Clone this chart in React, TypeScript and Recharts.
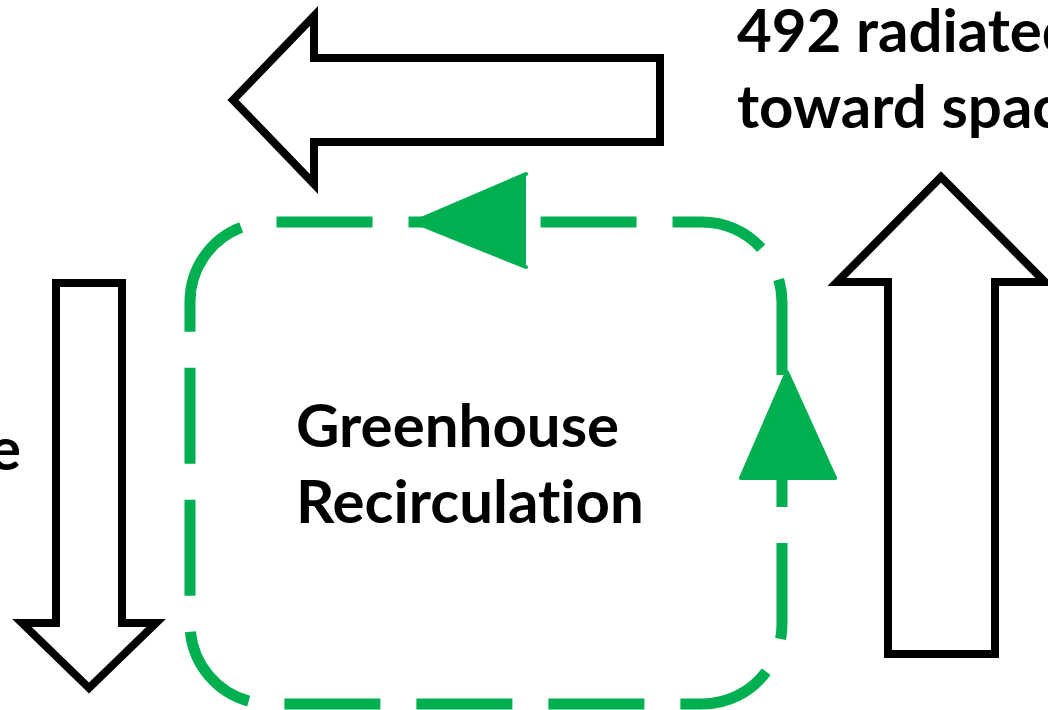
import React from 'react';
import { ComposedChart, XAxis, YAxis, Line, Area, Scatter, ReferenceArea, Rectangle } from 'recharts';

const W = 1048;
const H = 710;
const GREEN = '#00B050';

// Outline arrows (centerline vertices, pixel-space units)
const spaceArrow = [
  { x: 660, y: 100 }, { x: 660, y: 142 }, { x: 314, y: 142 }, { x: 314, y: 184 },
  { x: 233, y: 100 }, { x: 314, y: 16 }, { x: 314, y: 58 }, { x: 660, y: 58 }, { x: 660, y: 100 },
];
const upArrow = [
  { x: 995, y: 470 }, { x: 995, y: 654 }, { x: 888, y: 654 }, { x: 888, y: 282 },
  { x: 837, y: 282 }, { x: 941, y: 177 }, { x: 1045, y: 282 }, { x: 995, y: 282 }, { x: 995, y: 470 },
];
const downArrow = [
  { x: 56, y: 450 }, { x: 56, y: 283 }, { x: 122, y: 283 }, { x: 122, y: 623 },
  { x: 156, y: 623 }, { x: 89, y: 688 }, { x: 22, y: 623 }, { x: 56, y: 623 }, { x: 56, y: 450 },
];

// Filled green arrowheads (ranged areas)
const topTriangle = [
  { x: 414, y: [222, 222] },
  { x: 526, y: [174, 267] },
];
const sideTriangle = [
  { x: 741, y: [478, 478] },
  { x: 787, y: [372, 478] },
  { x: 835, y: [478, 478] },
];

// Dashed recirculation loop
const loopX = [190, 782];
const loopY = [222, 704];

// Text lines
const textLines = [
  { x: 737, y: 52, label: '492 radiated', anchor: 'start' },
  { x: 737, y: 128, label: 'toward space', anchor: 'start' },
  { x: 296, y: 447, label: 'Greenhouse', anchor: 'start' },
  { x: 296, y: 523, label: 'Recirculation', anchor: 'start' },
  { x: 21, y: 470, label: 'surface', anchor: 'end' },
];

const LoopShape = (p: any) => (
  <Rectangle {...p} radius={80} fill="none" stroke={GREEN} strokeWidth={11} strokeDasharray="96 36" />
);

const TextShape = (p: any) => (
  <text
    x={p.cx}
    y={p.cy}
    textAnchor={p.payload.anchor}
    fontFamily="Lato, 'Noto Sans', sans-serif"
    fontWeight={700}
    fontSize={60}
    fill="#000"
    style={{ fontVariantLigatures: 'none', fontFeatureSettings: '"liga" 0, "clig" 0' }}
  >
    {p.payload.label}
  </text>
);

export default function App() {
  return (
    <div style={{ position: 'absolute', left: 0, top: 0, width: W, height: H, background: '#fff', overflow: 'hidden' }}>
      <ComposedChart width={W} height={H} margin={{ top: 0, right: 0, bottom: 0, left: 0 }}>
        <XAxis type="number" dataKey="x" domain={[0, W]} allowDataOverflow hide />
        <YAxis type="number" domain={[0, H]} reversed allowDataOverflow hide />
        <ReferenceArea
          x1={loopX[0]}
          x2={loopX[1]}
          y1={loopY[0]}
          y2={loopY[1]}
          shape={LoopShape}
          ifOverflow="visible"
        />
        <Area data={topTriangle} dataKey="y" type="linear" fill={GREEN} fillOpacity={1} stroke={GREEN} strokeWidth={4} strokeLinejoin="round" strokeLinecap="round" isAnimationActive={false} dot={false} activeDot={false} />
        <Area data={sideTriangle} dataKey="y" type="linear" fill={GREEN} fillOpacity={1} stroke={GREEN} strokeWidth={4} strokeLinejoin="round" strokeLinecap="round" isAnimationActive={false} dot={false} activeDot={false} />
        <Line data={spaceArrow} dataKey="y" type="linear" stroke="#000" strokeWidth={8} strokeLinejoin="miter" dot={false} activeDot={false} isAnimationActive={false} />
        <Line data={upArrow} dataKey="y" type="linear" stroke="#000" strokeWidth={8} strokeLinejoin="miter" dot={false} activeDot={false} isAnimationActive={false} />
        <Line data={downArrow} dataKey="y" type="linear" stroke="#000" strokeWidth={8} strokeLinejoin="miter" dot={false} activeDot={false} isAnimationActive={false} />
        <Scatter data={textLines} dataKey="y" shape={TextShape} isAnimationActive={false} />
      </ComposedChart>
    </div>
  );
}
